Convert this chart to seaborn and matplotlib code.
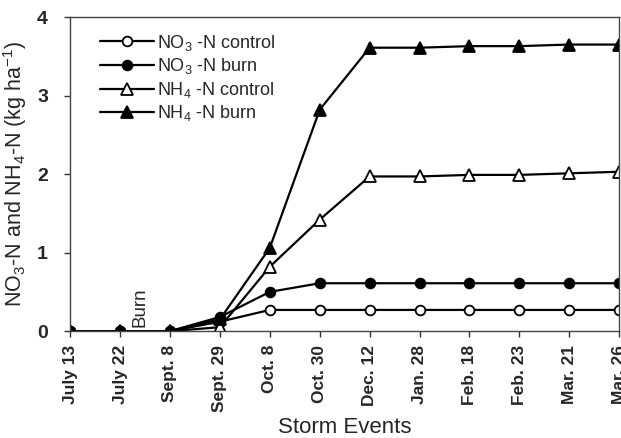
import numpy as np
import pandas as pd
import matplotlib
matplotlib.use("Agg")
import matplotlib.pyplot as plt
import seaborn as sns

# storm events on the x axis
events = ["July 13", "July 22", "Sept. 8", "Sept. 29", "Oct. 8", "Oct. 30",
          "Dec. 12", "Jan. 28", "Feb. 18", "Feb. 23", "Mar. 21", "Mar. 26"]

# cumulative N losses (kg/ha)
no3_control = [0, 0, 0, 0.12, 0.27, 0.27, 0.27, 0.27, 0.27, 0.27, 0.27, 0.27]
no3_burn = [0, 0, 0, 0.18, 0.50, 0.61, 0.61, 0.61, 0.61, 0.61, 0.61, 0.61]
nh4_control = [0, 0, 0, 0.05, 0.82, 1.42, 1.97, 1.97, 1.99, 1.99, 2.01, 2.03]
nh4_burn = [0, 0, 0, 0.15, 1.06, 2.82, 3.61, 3.61, 3.63, 3.63, 3.65, 3.65]

series = {
    "NO$_3$ -N control": no3_control,
    "NO$_3$ -N burn": no3_burn,
    "NH$_4$ -N control": nh4_control,
    "NH$_4$ -N burn": nh4_burn,
}
df = pd.concat([pd.DataFrame({"x": np.arange(len(events)), "y": v, "series": k})
                for k, v in series.items()])

sns.set_style("ticks")
plt.rcParams["font.family"] = ["Liberation Sans", "DejaVu Sans"]
plt.rcParams["mathtext.fontset"] = "custom"
plt.rcParams["mathtext.rm"] = "Liberation Sans"

fig = plt.figure(figsize=(6.21, 4.38), dpi=100)
ax = fig.add_axes([0.113, 0.244, 0.884, 0.717])

styles = {
    "NO$_3$ -N control": ("o", "white", 7),
    "NO$_3$ -N burn": ("o", "black", 7),
    "NH$_4$ -N control": ("^", "white", 8),
    "NH$_4$ -N burn": ("^", "black", 8),
}
for name, (mk, fc, ms) in styles.items():
    sns.lineplot(data=df[df["series"] == name], x="x", y="y", ax=ax,
                 color="black", linewidth=1.6, marker=mk, markersize=ms,
                 markerfacecolor=fc, markeredgecolor="black", markeredgewidth=1.3,
                 label=name, clip_on=True)

ax.set_xlim(0, len(events) - 1)
ax.set_ylim(0, 4)
ax.set_xticks(np.arange(len(events)))
ax.set_xticklabels(events, rotation=90, fontsize=12.5)
ax.set_yticks([0, 1, 2, 3, 4])
ax.set_yticklabels(["0", "1", "2", "3", "4"], fontsize=14, fontweight="bold")
for t in ax.get_xticklabels():
    t.set_fontweight("bold")
ax.tick_params(axis="both", direction="out", length=4, width=1, color="#333333")
ax.tick_params(axis="x", pad=6)
ax.tick_params(axis="y", pad=12)

for s in ax.spines.values():
    s.set_visible(True)
    s.set_color("#444444")
    s.set_linewidth(1)

ax.set_xlabel("Storm Events", fontsize=16, labelpad=4)
ax.set_ylabel("NO$_3$-N and NH$_4$-N (kg ha$^{-1}$)", fontsize=15.5, labelpad=6)

ax.text(1.4, 0.05, "Burn", rotation=90, fontsize=13.5, ha="center", va="bottom")

leg = ax.legend(loc="upper left", bbox_to_anchor=(0.035, 0.985), frameon=False,
                fontsize=13, handlelength=3.0, handletextpad=0.15,
                labelspacing=0.2, borderaxespad=0.2)

fig.savefig("out.png", dpi=100)
